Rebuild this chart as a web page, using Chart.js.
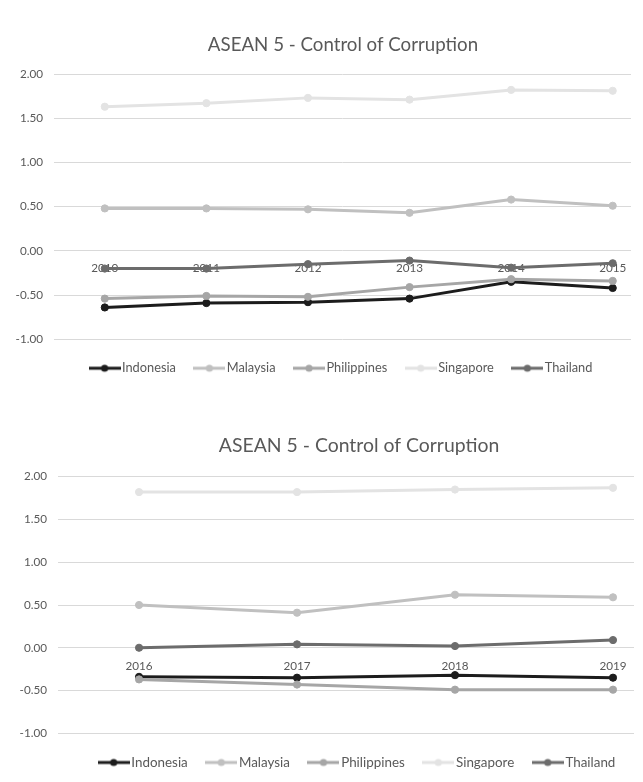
<!DOCTYPE html>
<html>
<head>
<meta charset="utf-8">
<script src="https://cdn.jsdelivr.net/npm/chart.js@4.4.0/dist/chart.umd.min.js"></script>
<style>
  html, body { margin: 0; padding: 0; background: #ffffff; overflow: hidden; width: 643px; height: 782px; }
  #c1 { position: absolute; left: 0; top: 0; }
  #c2 { position: absolute; left: 0; top: 400px; }
</style>
</head>
<body>
<canvas id="c1" width="686" height="390"></canvas>
<canvas id="c2" width="718" height="382"></canvas>
<script>
// ---------- Data ----------
const chartTitle = 'ASEAN 5 - Control of Corruption';
const countries = ['Indonesia', 'Malaysia', 'Philippines', 'Singapore', 'Thailand'];
const yTicks = [-1.0, -0.5, 0.0, 0.5, 1.0, 1.5, 2.0];

// Period 1: 2010-2015
const years1 = [2010, 2011, 2012, 2013, 2014, 2015];
const indonesia1   = [-0.64, -0.59, -0.58, -0.54, -0.35, -0.42];
const malaysia1    = [0.48, 0.48, 0.47, 0.43, 0.58, 0.51];
const philippines1 = [-0.54, -0.51, -0.52, -0.41, -0.32, -0.34];
const singapore1   = [1.63, 1.67, 1.73, 1.71, 1.82, 1.81];
const thailand1    = [-0.20, -0.20, -0.15, -0.11, -0.19, -0.14];

// Period 2: 2016-2019
const years2 = [2016, 2017, 2018, 2019];
const indonesia2   = [-0.34, -0.35, -0.32, -0.35];
const malaysia2    = [0.50, 0.41, 0.62, 0.59];
const philippines2 = [-0.37, -0.43, -0.49, -0.49];
const singapore2   = [1.82, 1.82, 1.85, 1.87];
const thailand2    = [0.00, 0.04, 0.02, 0.09];

// ---------- Styling ----------
const colors = ['#1c1c1c', '#c0c0c0', '#a6a6a6', '#e3e3e3', '#6c6c6c'];
const textColor = '#595959';
const gridColor = '#d9d9d9';
const FONT = 'Lato, "Open Sans", sans-serif';

function legendIcon(color) {
  const c = document.createElement('canvas');
  c.width = 32; c.height = 10;
  const g = c.getContext('2d');
  g.strokeStyle = color; g.lineWidth = 3;
  g.beginPath(); g.moveTo(0, 5); g.lineTo(32, 5); g.stroke();
  g.fillStyle = color;
  g.beginPath(); g.arc(16, 5, 3.6, 0, Math.PI * 2); g.fill();
  return c;
}

function makeDatasets(years, series) {
  return series.map((vals, i) => ({
    label: countries[i],
    data: years.map((yr, j) => ({ x: yr, y: vals[j] })),
    borderColor: colors[i],
    backgroundColor: colors[i],
    borderWidth: 3,
    pointRadius: 3.6,
    pointBorderWidth: 1,
    pointBackgroundColor: colors[i],
    pointBorderColor: colors[i],
    tension: 0,
    order: series.length - 1 - i
  }));
}

function makeChart(id, years, series, cfg) {
  return new Chart(document.getElementById(id), {
    type: 'line',
    data: { datasets: makeDatasets(years, series) },
    options: {
      responsive: false,
      animation: false,
      devicePixelRatio: 1,
      layout: { padding: { left: 0, right: 0, top: 0, bottom: cfg.padBottom } },
      plugins: {
        tooltip: { enabled: false },
        title: {
          display: true,
          text: chartTitle,
          color: textColor,
          font: { family: FONT, size: cfg.titleSize, weight: 'normal', lineHeight: 1.2 },
          padding: { top: cfg.titleTop, bottom: cfg.titleBottom }
        },
        legend: {
          position: 'bottom',
          labels: {
            color: textColor,
            font: { family: FONT, size: cfg.legendSize },
            usePointStyle: true,
            pointStyleWidth: 22,
            padding: 22.5,
            sort: (a, b) => a.datasetIndex - b.datasetIndex,
            generateLabels(chart) {
              const items = Chart.defaults.plugins.legend.labels.generateLabels(chart);
              items.forEach(it => { it.pointStyle = legendIcon(colors[it.datasetIndex]); });
              return items;
            }
          }
        }
      },
      scales: {
        x: {
          type: 'linear',
          position: { y: 0 },
          min: cfg.xMin,
          max: cfg.xMax,
          grid: { display: false, drawTicks: false },
          border: { display: false },
          ticks: {
            stepSize: 1,
            includeBounds: false,
            autoSkip: false,
            maxRotation: 0,
            padding: cfg.xPad,
            color: textColor,
            font: { family: FONT, size: 11.7 },
            callback: v => (Number.isInteger(v) && years.includes(v)) ? String(v) : ''
          }
        },
        y: {
          min: yTicks[0],
          max: yTicks[yTicks.length - 1],
          afterFit: s => { s.width = cfg.plotLeft; },
          grid: { color: gridColor, lineWidth: 1, drawTicks: false },
          border: { display: false },
          afterBuildTicks: s => { s.ticks = yTicks.map(v => ({ value: v })); },
          ticks: {
            padding: 11,
            color: textColor,
            font: { family: FONT, size: 11.7 },
            callback: v => Number(v).toFixed(2)
          }
        },
        rightSpace: {
          type: 'linear',
          position: 'right',
          afterFit: s => { s.width = cfg.plotRightGap; },
          grid: { display: false, drawTicks: false },
          border: { display: false },
          ticks: { display: false }
        }
      }
    }
  });
}

makeChart('c1', years1, [indonesia1, malaysia1, philippines1, singapore1, thailand1], {
  plotRightGap: 686 - 631, padBottom: 5.4, titleSize: 18.7, titleTop: 33.78, titleBottom: 17.78,
  xMin: 2009.5, xMax: 2015.18, xPad: 10, plotLeft: 54, legendSize: 12.8
});

makeChart('c2', years2, [indonesia2, malaysia2, philippines2, singapore2, thailand2], {
  plotRightGap: 718 - 634, padBottom: 2.8, titleSize: 19.4, titleTop: 34.36, titleBottom: 19.06,
  xMin: 2015.487, xMax: 2019.133, xPad: 11, plotLeft: 58, legendSize: 13.4
});
</script>
</body>
</html>
